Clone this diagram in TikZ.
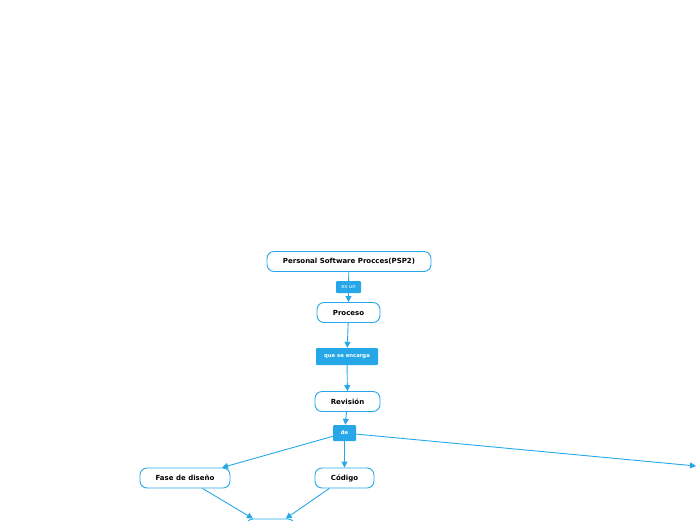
\documentclass[tikz,border=0pt]{standalone}
\usepackage{fontspec}
\setmainfont{DejaVu Sans}
\usetikzlibrary{arrows.meta}
\definecolor{mapblue}{RGB}{38,168,232}
\begin{document}
\begin{tikzpicture}[x=1pt,y=-1pt,
  topic/.style={draw=mapblue, line width=0.9pt, fill=white, rounded corners=7pt,
    minimum height=20pt, inner sep=0pt, font=\fontsize{7}{8}\selectfont\bfseries},
  link/.style={fill=mapblue, rounded corners=1pt, inner sep=0pt, minimum height=14pt,
    text=white, font=\fontsize{5.3}{6}\selectfont\bfseries},
  conn/.style={draw=mapblue, line width=0.9pt},
  arr/.style={conn, -{Triangle[length=6pt,width=6pt]}}]
\useasboundingbox (0,0) rectangle (696,520);

% main chain
\node[topic, minimum width=164pt] (psp) at (349,261.5) {Personal Software Procces(PSP2)};
\node[link, minimum width=25pt, minimum height=12pt] (esun) at (348.5,287) {\mdseries es un};
\node[topic, minimum width=63pt] (proc) at (348.5,312.5) {Proceso};
\node[link, minimum width=62pt, minimum height=17pt] (encarga) at (347,356.5) {que se encarga};
\node[topic, minimum width=65pt] (rev) at (347.5,401.5) {Revisión};
\node[link, minimum width=23pt, minimum height=16pt] (de) at (344.5,433) {de};

% second level
\node[topic, minimum width=90pt] (fase) at (185,478) {Fase de diseño};
\node[topic, minimum width=59pt] (cod) at (344.5,478) {Código};

% nodes cut by the frame
\node[topic, minimum width=49pt] (abajo) at (270.5,529) {};
\coordinate (derecha) at (696,466);

% connectors
\draw[conn] (psp) -- (esun);
\draw[arr] (esun) -- (proc);
\draw[arr] (proc) -- (encarga);
\draw[arr] (encarga) -- (rev);
\draw[arr] (rev) -- (de);
\draw[arr] (de) -- (fase);
\draw[arr] (de) -- (cod);
\draw[arr] (de) -- (derecha);
\draw[arr] (fase) -- (abajo);
\draw[arr] (cod) -- (abajo);
\end{tikzpicture}
\end{document}
